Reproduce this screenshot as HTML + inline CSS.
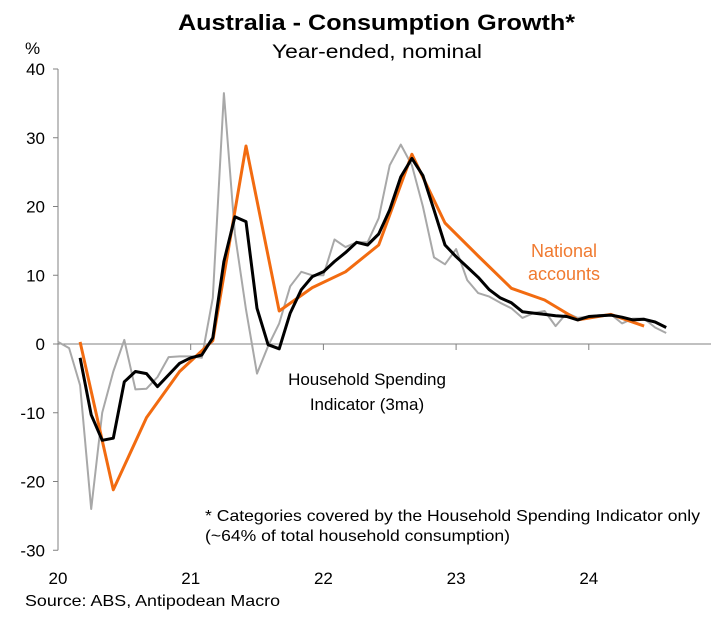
<!DOCTYPE html>
<html><head><meta charset="utf-8"><style>
body{margin:0;background:#fff;font-family:"Liberation Sans",Arial,sans-serif}
svg text{font-family:"Liberation Sans",Arial,sans-serif}
</style></head><body>
<svg id="chart" width="717" height="613" xmlns="http://www.w3.org/2000/svg">
<rect width="717" height="613" fill="#fff"/>
<text x="178" y="30" font-size="22" font-weight="bold" textLength="397" lengthAdjust="spacingAndGlyphs">Australia - Consumption Growth*</text>
<text x="272" y="58" font-size="19" textLength="210" lengthAdjust="spacingAndGlyphs">Year-ended, nominal</text>
<text x="25" y="54" font-size="17">%</text>
<g id="axes"></g>
<g id="series"></g>
<text x="367" y="385" font-size="17" text-anchor="middle">Household Spending</text>
<text x="367" y="410" font-size="17" text-anchor="middle">Indicator (3ma)</text>
<text x="564" y="257" font-size="18" fill="#f07a30" text-anchor="middle">National</text>
<text x="564" y="280" font-size="18" fill="#f07a30" text-anchor="middle">accounts</text>
<text x="205" y="521" font-size="16" textLength="495" lengthAdjust="spacingAndGlyphs">* Categories covered by the Household Spending Indicator only</text>
<text x="205" y="541" font-size="16" textLength="305" lengthAdjust="spacingAndGlyphs">(~64% of total household consumption)</text>
<text x="25" y="606" font-size="16" textLength="255" lengthAdjust="spacingAndGlyphs">Source: ABS, Antipodean Macro</text>
</svg>
<script>
const yTicks=[40,30,20,10,0,-10,-20,-30];
const yearLabels=["20","21","22","23","24"];
const grayMonths=[0,1,2,3,4,5,6,7,8,9,10,11,12,13,14,15,16,17,18,19,20,21,22,23,24,25,26,27,28,29,30,31,32,33,34,35,36,37,38,39,40,41,42,43,44,45,46,47,48,49,50,51,52,53,54,55];
const grayValues=[0.3,-0.6,-6,-24,-10,-4,0.6,-6.6,-6.5,-4.8,-1.9,-1.8,-1.8,-2,6.7,36.5,16,5,-4.3,-0.3,3,8.4,10.5,10,10,15.2,14.1,14.8,14.8,18.3,26,29,26,20,12.6,11.6,13.8,9.3,7.4,6.9,6,5.2,3.8,4.5,4.8,2.6,4.5,3.8,4,4.2,4.3,3,3.7,3.7,2.4,1.6];
const hsiMonths=[2,3,4,5,6,7,8,9,10,11,12,13,14,15,16,17,18,19,20,21,22,23,24,25,26,27,28,29,30,31,32,33,34,35,36,37,38,39,40,41,42,43,44,45,46,47,48,49,50,51,52,53,54,55];
const hsiValues=[-2,-10.3,-14,-13.7,-5.5,-4,-4.3,-6.2,-4.5,-2.8,-2,-1.6,0.9,12,18.5,17.8,5.2,-0.1,-0.7,4.5,7.9,9.8,10.5,12,13.3,14.8,14.4,16,19.5,24.3,27,24.5,19.5,14.4,12.7,11.2,9.7,7.9,6.7,6,4.7,4.5,4.3,4.1,4,3.5,4,4.1,4.2,3.9,3.5,3.6,3.2,2.4];
const naMonths=[2,5,8,11,14,17,20,23,26,29,32,35,38,41,44,47,50,53];
const naValues=[0.3,-21.2,-10.7,-4,0.5,28.8,4.8,8.2,10.5,14.4,27.6,17.6,12.8,8.1,6.4,3.5,4.3,2.6];

const NS="http://www.w3.org/2000/svg";
const x0=58, monthW=132.7/12;
function xs(m){return x0+m*monthW;}
function ys(v){return 344-v*6.875;}
const axes=document.getElementById('axes'), series=document.getElementById('series');
function mk(tag,attrs,parent){const e=document.createElementNS(NS,tag);for(const k in attrs)e.setAttribute(k,attrs[k]);parent.appendChild(e);return e;}

const yAxis=mk('line',{x1:x0,x2:x0,y1:ys(40),y2:ys(-30),stroke:'#808080','stroke-width':1},axes);


const xAxis=mk('line',{x1:x0,x2:711,y1:ys(0),y2:ys(0),stroke:'#808080','stroke-width':1},axes);


yTicks.forEach(v=>{
  const t=mk('line',{x1:x0-5,x2:x0,y1:ys(v),y2:ys(v),stroke:'#808080'},axes);
  
  
  const l=mk('text',{x:45,y:ys(v)+6,'font-size':17,'text-anchor':'end'},axes);
  l.textContent=v;
  
  
});
yearLabels.forEach((s,i)=>{
  const xx=xs(i*12);
  if(i>0){const t=mk('line',{x1:xx,x2:xx,y1:ys(0),y2:ys(0)+6,stroke:'#808080'},axes);
  
  }
  const l=mk('text',{x:xx,y:584,'font-size':17,'text-anchor':'middle'},axes);
  l.textContent=s;
  
  
});
function line(ms,vs,color,w,name){
  const p=mk('polyline',{points:ms.map((m,i)=>xs(m).toFixed(1)+','+ys(vs[i]).toFixed(1)).join(' '),fill:'none',stroke:color,'stroke-width':w,'stroke-linejoin':'round'},series);
  
  
}
line(grayMonths,grayValues,'#a8a8a8',2,'monthly-hsi-line');
line(naMonths,naValues,'#f26b10',3,'national-accounts-line');
line(hsiMonths,hsiValues,'#000',3,'hsi-3ma-line');
</script>
</body></html>
